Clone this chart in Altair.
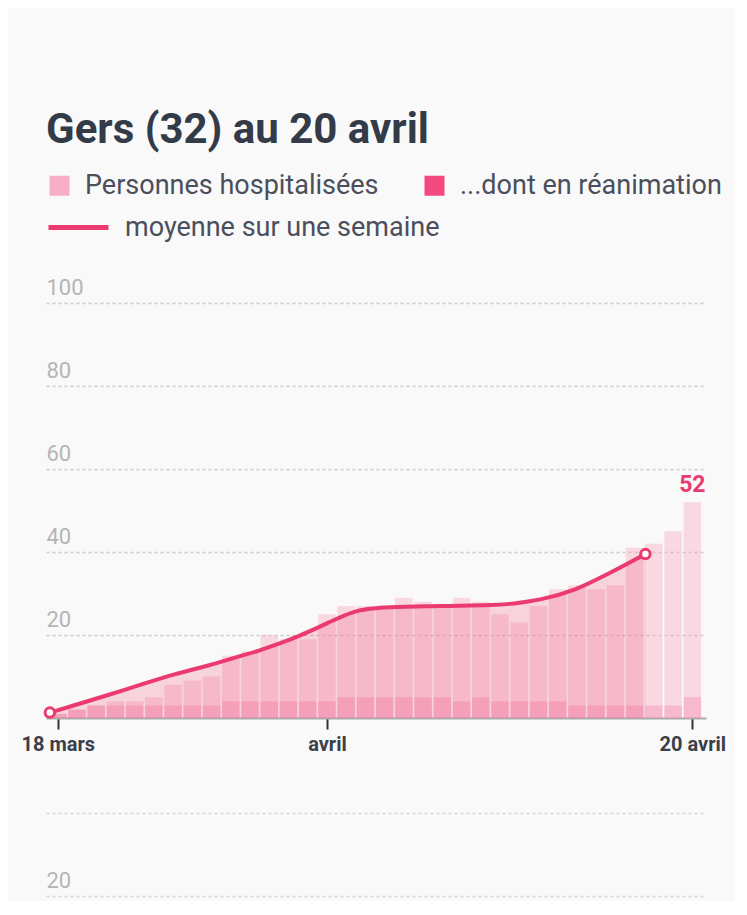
import altair as alt
import pandas as pd

# ---- data ----
days = list(range(34))  # 0 = 18 mars ... 33 = 20 avril
hospitalises = [1, 2, 3, 4, 4, 5, 8, 9, 10, 15, 16, 20, 19, 19, 25, 27, 27, 27, 29, 28,
                27, 29, 28, 25, 23, 27, 31, 32, 31, 32, 41, 42, 45, 52]
reanimation = [1, 2, 3, 3, 3, 3, 3, 3, 3, 4, 4, 4, 4, 4, 4, 5, 5, 5, 5, 5,
               5, 4, 5, 4, 4, 4, 4, 3, 3, 3, 3, 3, 3, 5]
moy_x = [-0.41, 0.95, 2.66, 4.36, 6.07, 7.78, 9.48, 10.5, 11.5, 12.55, 13.58, 14.6,
         15.6, 16.4, 17.3, 19.9, 22.5, 23.5, 24.6, 25.2, 26.9, 28.6, 30.56]
moy_y = [1.3, 3.2, 5.6, 8.1, 10.5, 12.6, 14.9, 16.3, 17.9, 19.8, 21.9, 24.1,
         25.8, 26.4, 26.7, 27.0, 27.2, 27.5, 28.2, 28.7, 31.0, 34.7, 39.5]
tick_days = [0, 14, 33]
tick_labels = ["18 mars", "avril", "20 avril"]
y_ticks = [20, 40, 60, 80, 100]
cat_names = ["Personnes hospitalisées", "...dont en réanimation"]
cat_colors = ["#f8aec4", "#f2497e"]
line_name = "moyenne sur une semaine"

PINK = "#ea3a70"
FONT = "Roboto"

hosp = pd.DataFrame({"jour": days, "valeur": hospitalises, "serie": cat_names[0]})
rea = pd.DataFrame({"jour": days, "valeur": reanimation, "serie": cat_names[1]})
moy = pd.DataFrame({"jour": moy_x, "valeur": moy_y, "serie": line_name})
ends = moy.iloc[[0, -1]]
last = pd.DataFrame({"jour": [days[-1]], "valeur": [hospitalises[-1]]})

label_expr = " : ".join(
    f"datum.value == {d} ? '{l}'" for d, l in zip(tick_days[:-1], tick_labels[:-1])
) + f" : '{tick_labels[-1]}'"

xscale = alt.Scale(domain=[-0.35, 33.45], nice=False, zero=False)
yscale = alt.Scale(domain=[0, 100], nice=False)
cscale = alt.Scale(domain=cat_names, range=cat_colors)

xaxis = alt.Axis(values=tick_days, labelExpr=label_expr, title=None, grid=False,
                 tickSize=11, tickWidth=2, tickColor="#333333",
                 domainColor="#aaaaaa", domainWidth=2,
                 labelFont=FONT, labelFontWeight="bold", labelFontSize=20,
                 labelColor="#3a3f4a", labelPadding=5.5, labelFlush=False)
yaxis = alt.Axis(values=y_ticks, title=None, domain=False, ticks=False, tickSize=0,
                 labelAlign="left", labelBaseline="alphabetic", labelPadding=0,
                 labelOffset=-9, labelFont=FONT, labelFontSize=22,
                 labelColor="#b5b5b5", grid=True, gridColor="#cccccc",
                 gridDash=[3, 3], gridWidth=1.5)

bar_h = alt.Chart(hosp).mark_bar(size=17.5, fillOpacity=0.44).encode(
    x=alt.X("jour:Q", scale=xscale, axis=xaxis),
    y=alt.Y("valeur:Q", scale=yscale, axis=yaxis),
    color=alt.Color("serie:N", scale=cscale,
                    legend=alt.Legend(orient="none", legendX=0, legendY=-131,
                                      direction="horizontal", title=None,
                                      symbolType="square", symbolSize=400,
                                      symbolOpacity=1, symbolStrokeWidth=0,
                                      labelFont=FONT, labelFontSize=27,
                                      labelLimit=0, labelColor="#4a4f5b",
                                      labelOffset=12, columnPadding=42, padding=0)),
)
bar_r = alt.Chart(rea).mark_bar(size=17.5, fillOpacity=0.21).encode(
    x=alt.X("jour:Q", scale=xscale),
    y=alt.Y("valeur:Q", scale=yscale),
    color=alt.Color("serie:N", scale=cscale),
)

area = alt.Chart(moy).mark_area(color=PINK, fillOpacity=0.2, interpolate="monotone").encode(
    x=alt.X("jour:Q", scale=xscale),
    y=alt.Y("valeur:Q", scale=yscale),
)

line = alt.Chart(moy).mark_line(strokeWidth=4, interpolate="monotone").encode(
    x="jour:Q",
    y="valeur:Q",
    stroke=alt.Stroke("serie:N", scale=alt.Scale(domain=[line_name], range=[PINK]),
                      legend=alt.Legend(orient="none", legendX=0, legendY=-108,
                                        title=None, symbolType="stroke",
                                        symbolSize=3600, symbolStrokeWidth=5,
                                        labelFont=FONT, labelFontSize=27,
                                        labelLimit=0, labelColor="#4a4f5b",
                                        labelOffset=14, padding=0)),
)

points = alt.Chart(ends).mark_point(filled=True, fill="white", stroke=PINK,
                                     strokeWidth=3, size=90, opacity=1).encode(
    x="jour:Q", y="valeur:Q")

label = alt.Chart(last).mark_text(font=FONT, fontWeight="bold", fontSize=23,
                                  color=PINK, dy=-10, baseline="alphabetic").encode(
    x="jour:Q", y="valeur:Q", text="valeur:Q")

main = alt.layer(bar_h, bar_r, area, line, points, label).properties(
    width=660, height=415,
    title=alt.TitleParams("Gers (32) au 20 avril", anchor="start", frame="group",
                          font=FONT, fontSize=42, fontWeight="bold",
                          color="#333a48", offset=124),
)

# top of the next department's chart, cut off by the page
nxt = pd.DataFrame({"valeur": pd.Series([], dtype=float)})
lower = alt.Chart(nxt).mark_point().encode(
    y=alt.Y("valeur:Q", scale=alt.Scale(domain=[20, 40], nice=False, zero=False),
            axis=alt.Axis(values=[20, 40], title=None, domain=False, ticks=False,
                          tickSize=0, labelAlign="left", labelBaseline="alphabetic",
                          labelPadding=0, labelOffset=-9, labelFont=FONT,
                          labelFontSize=22, labelColor="#b5b5b5",
                          labelExpr="datum.value == 20 ? '20' : ''",
                          grid=True, gridColor="#d6d6d6", gridDash=[3, 3],
                          gridWidth=1.5)),
).properties(width=660, height=83)

chart = alt.vconcat(main, lower, spacing=58).properties(
    padding={"left": 12, "top": 101, "right": 9, "bottom": 5},
    background="#f9f9f9",
).configure_view(stroke=None)

chart.save("out.html", embed_options={"renderer": "svg", "actions": False})
